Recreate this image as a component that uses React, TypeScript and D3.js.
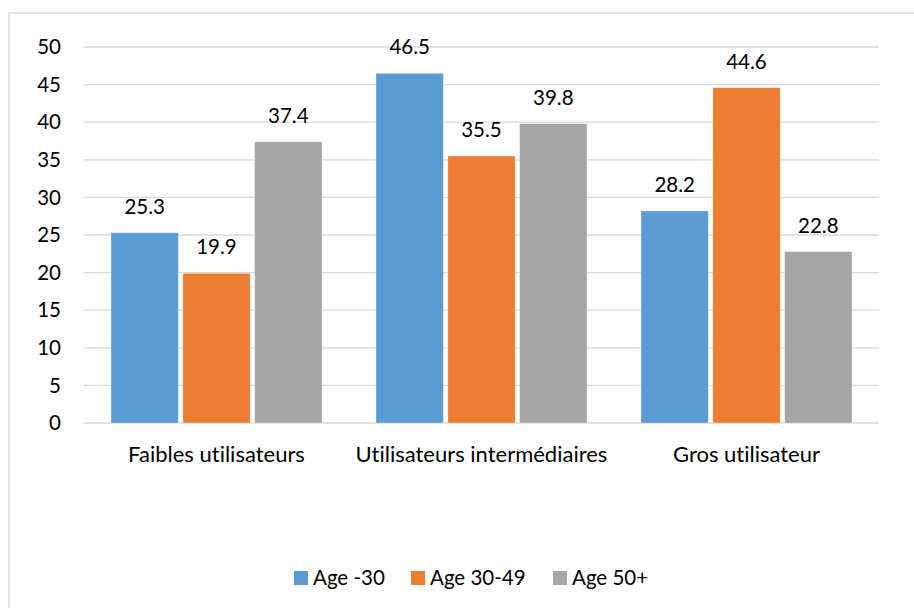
import React from "react";
import * as d3 from "d3";

const categories = ["Faibles utilisateurs", "Utilisateurs intermédiaires", "Gros utilisateur"];
const seriesNames = ["Age -30", "Age 30-49", "Age 50+"];
const age30 = [25.3, 46.5, 28.2];
const age3049 = [19.9, 35.5, 44.6];
const age50 = [37.4, 39.8, 22.8];
const yTicks = [0, 5, 10, 15, 20, 25, 30, 35, 40, 45, 50];
const colors = ["#5B9BD5", "#ED7D31", "#A5A5A5"];

const W = 914;
const H = 608;
const FONT = "Lato, 'Noto Sans', sans-serif";
const FS = 20.5;
const FS_CAT = 22;

export default function App() {
  const seriesValues = [age30, age3049, age50];
  const x0 = d3.scaleBand<string>().domain(categories).range([84, 879]).padding(0);
  const x1 = d3
    .scaleBand<string>()
    .domain(seriesNames)
    .range([27, x0.bandwidth() - 27])
    .paddingInner(0.063)
    .paddingOuter(0);
  const y = d3.scaleLinear().domain([0, 50]).range([423, 47]);

  const legendX = [294, 411, 553];

  return (
    <svg
      width={W}
      height={H}
      style={{ position: "absolute", left: 0, top: 0, background: "#fff", fontVariantLigatures: "none" }}
      fontFamily={FONT}
    >
      <rect x={9} y={13} width={W + 20} height={H + 20} fill="#fff" stroke="#D9D9D9" strokeWidth={1.5} />
      {yTicks.map((t) => (
        <g key={t}>
          <line x1={84} x2={879} y1={y(t)} y2={y(t)} stroke="#D9D9D9" strokeWidth={1.3} />
          <text x={61} y={y(t)} dy="0.35em" textAnchor="end" fontSize={FS} fill="#000">
            {t}
          </text>
        </g>
      ))}
      {categories.map((c, ci) => (
        <g key={c} transform={`translate(${x0(c)},0)`}>
          {seriesNames.map((s, si) => {
            const v = seriesValues[si][ci];
            const bx = x1(s)!;
            return (
              <g key={s}>
                <rect
                  x={bx}
                  y={y(v)}
                  width={x1.bandwidth()}
                  height={y(0) - y(v)}
                  fill={colors[si]}
                  stroke="#fff"
                  strokeOpacity={0.4}
                  strokeWidth={0.8}
                />
                <text
                  x={bx + x1.bandwidth() / 2}
                  y={y(v) - 19}
                  textAnchor="middle"
                  fontSize={FS}
                  fill="#000"
                >
                  {v.toFixed(1)}
                </text>
              </g>
            );
          })}
          <text x={x0.bandwidth() / 2} y={462} textAnchor="middle" fontSize={FS_CAT} fill="#000">
            {c}
          </text>
        </g>
      ))}
      {seriesNames.map((s, si) => (
        <g key={s}>
          <rect x={legendX[si]} y={571} width={14} height={14} fill={colors[si]} />
          <text x={legendX[si] + 19} y={585} fontSize={FS} fill="#000">
            {s}
          </text>
        </g>
      ))}
    </svg>
  );
}
